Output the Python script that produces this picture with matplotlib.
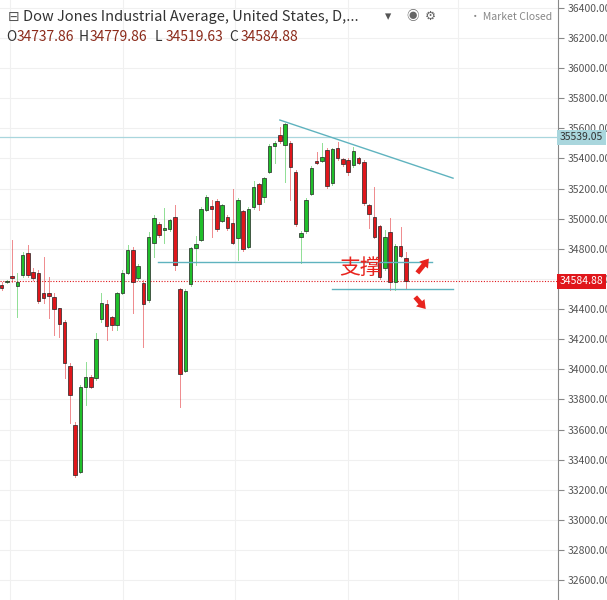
import numpy as np
import matplotlib
matplotlib.use("Agg")
import matplotlib.pyplot as plt
from matplotlib.patches import Rectangle

plt.rcParams['font.family'] = ['Noto Sans CJK SC', 'DejaVu Sans']

# daily OHLC
opens = [34560, 34580, 34620, 34555, 34626, 34770, 34648, 34637, 34505, 34505,
         34482, 34405, 34316, 34024, 33630, 33320, 33885, 33951, 33940, 34332,
         34434, 34345, 34294, 34509, 34642, 34792, 34604, 34575, 34460, 34841,
         34965, 34925, 34929, 35013, 34531, 33991, 34564, 34803, 34859, 35058,
         35084, 35117, 34987, 35013, 34969, 34870, 35051, 34814, 35075, 35228,
         35142, 35308, 35483, 35556, 35491, 35505, 35312, 34881, 34918, 35164,
         35385, 35385, 35456, 35235, 35472, 35394, 35390, 35356, 35401, 35379,
         35091, 35013, 34951, 34670, 34914, 34582, 34819, 34741]
highs = [34582, 34595, 34859, 34637, 34781, 34825, 34670, 34659, 34748, 34615,
         34505, 34410, 34327, 34040, 33652, 33896, 34051, 33962, 34239, 34505,
         34460, 34355, 34516, 34659, 34825, 34814, 34700, 34590, 34914, 35024,
         34980, 35069, 35000, 35091, 34540, 34530, 34815, 34885, 35075, 35155,
         35124, 35130, 35100, 35025, 35195, 35135, 35060, 35075, 35250, 35240,
         35280, 35495, 35515, 35611, 35635, 35515, 35320, 34915, 35135, 35350,
         35441, 35500, 35470, 35470, 35511, 35405, 35400, 35478, 35410, 35390,
         35100, 35208, 34960, 34925, 35002, 34830, 34947, 34781]
lows = [34527, 34575, 34582, 34350, 34615, 34615, 34593, 34438, 34438, 34338,
        34228, 34217, 33940, 33641, 33287, 33310, 33763, 33874, 33930, 34316,
        34195, 34261, 34261, 34500, 34635, 34372, 34595, 34150, 34450, 34748,
        34880, 34836, 34920, 34659, 33752, 33980, 34555, 34693, 34850, 35050,
        34881, 34920, 34975, 34925, 34830, 34726, 34785, 34805, 35065, 35058,
        35113, 35300, 35368, 35505, 35246, 35124, 34950, 34704, 34905, 35155,
        35360, 35378, 35205, 35225, 35390, 35350, 35290, 35345, 35360, 35090,
        34936, 34870, 34600, 34660, 34527, 34527, 34745, 34535]
closes = [34538, 34588, 34604, 34582, 34759, 34626, 34604, 34454, 34471, 34487,
          34398, 34301, 34040, 33830, 33298, 33885, 33951, 33880, 34199, 34443,
          34288, 34294, 34505, 34642, 34792, 34582, 34686, 34431, 34881, 35002,
          34892, 34940, 34991, 34693, 33969, 34522, 34803, 34832, 35064, 35146,
          35062, 34929, 35091, 34936, 34841, 35124, 34797, 35064, 35208, 35098,
          35268, 35483, 35505, 35516, 35626, 35345, 34963, 34903, 35124, 35339,
          35368, 35407, 35217, 35460, 35401, 35361, 35312, 35449, 35368, 35102,
          35031, 34881, 34615, 34876, 34582, 34821, 34752, 34585]

last_close = 34584.88
marker_level = 35539.05
y_ticks = np.arange(32600, 36401, 200)

# drawn lines (bar index, price)
trend_x, trend_y = [53.0, 86.0], [35655, 35269]
support1_x, support1_y = [29.8, 82.0], [34712, 34712]
support2_x, support2_y = [62.9, 86.0], [34533, 34533]

up_col = '#1fbf2a'
dn_col = '#e0161b'
edge = '#222222'
line_col = '#5fb3bf'

fig = plt.figure(figsize=(6.07, 6.0), dpi=100)
ax = fig.add_axes([0, 0, 558 / 607, 1])
ax.set_xlim(-0.32, 106)
ax.set_ylim(32468, 36452)

# grid
for gx in [1.6, 23.1, 44.4, 66.0, 87.0]:
    ax.axvline(gx, color='#f0f0f0', lw=0.8, zorder=0)
for gy in y_ticks:
    ax.axhline(gy, color='#f0f0f0', lw=0.8, zorder=0)

w = 0.66
for i, (o, h, l, c) in enumerate(zip(opens, highs, lows, closes)):
    col = up_col if c >= o else dn_col
    ax.plot([i, i], [l, h], color=col, lw=0.7, alpha=0.5, zorder=2)
    lo, hi = min(o, c), max(o, c)
    ax.add_patch(Rectangle((i - w / 2, lo), w, max(hi - lo, 6), facecolor=col,
                           edgecolor=edge, lw=0.5, zorder=3))

ax.axhline(marker_level, color='#a9d6dd', lw=0.9, zorder=1)
ax.axhline(last_close, color='#e0161b', lw=0.8, ls=(0, (1, 1.5)), zorder=1)
ax.plot(trend_x, trend_y, color=line_col, lw=1, zorder=4)
ax.plot(support1_x, support1_y, color=line_col, lw=1, zorder=4)
ax.plot(support2_x, support2_y, color=line_col, lw=1, zorder=4)

ax.text(64.3, 34600, '支撑', color='#e8241e', fontsize=15, ha='left', va='bottom', zorder=5)
arrow_style = dict(arrowstyle='simple,head_width=0.8,head_length=0.6,tail_width=0.35',
                   color='#e8241e', lw=0, shrinkA=0, shrinkB=0)
ax.annotate('', xy=(81.4, 34735), xytext=(79.2, 34640), arrowprops=arrow_style, zorder=5)
ax.annotate('', xy=(80.8, 34400), xytext=(78.8, 34480), arrowprops=arrow_style, zorder=5)

ax.set_xticks([])
ax.yaxis.tick_right()
ax.set_yticks(y_ticks)
ax.set_yticklabels([f'{v:.2f}' for v in y_ticks], fontsize=7.5, color='#555555')
ax.tick_params(axis='y', length=4, color='#888888', pad=3)
for s in ['top', 'left', 'bottom']:
    ax.spines[s].set_visible(False)
ax.spines['right'].set_color('#888888')

# price labels on the axis
ax.text(1.003, marker_level, f'{marker_level:.2f}', transform=ax.get_yaxis_transform(),
        fontsize=7.5, color='#333333', va='center', ha='left',
        bbox=dict(boxstyle='square,pad=0.25', fc='#a9d6dd', ec='none'), zorder=6)
ax.text(1.003, last_close, f'{last_close:.2f}', transform=ax.get_yaxis_transform(),
        fontsize=7.5, color='white', va='center', ha='left',
        bbox=dict(boxstyle='square,pad=0.25', fc='#e0161b', ec='none'), zorder=6)

# header
fig.text(0.012, 0.972, '⊟', fontsize=10, color='#555555', va='center')
fig.text(0.038, 0.972, 'Dow Jones Industrial Average, United States, D,...',
         fontsize=10.5, color='#333333', va='center')
fig.text(0.635, 0.972, '▾', fontsize=9, color='#555555', va='center')
fig.text(0.67, 0.972, '◉', fontsize=9, color='#666666', va='center')
fig.text(0.70, 0.972, '⚙', fontsize=9, color='#666666', va='center')
fig.text(0.775, 0.972, '• Market Closed', fontsize=7.5, color='#888888', va='center')
ohlc_parts = [('O', '34737.86'), ('H', '34779.86'), ('L', '34519.63'), ('C', '34584.88')]
xs = [0.010, 0.130, 0.255, 0.378]
for (k, v), x in zip(ohlc_parts, xs):
    fig.text(x, 0.938, k, fontsize=10, color='#333333', va='center')
    fig.text(x + 0.018, 0.938, v, fontsize=10, color='#8b2a1a', va='center')

fig.savefig('out.png', dpi=100)
